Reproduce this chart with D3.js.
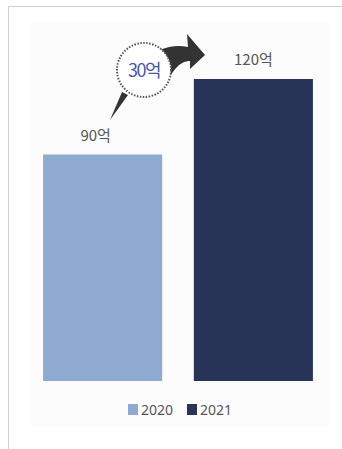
<!DOCTYPE html>
<html><head><meta charset="utf-8">
<script src="https://cdn.jsdelivr.net/npm/d3@7"></script>
<style>html,body{margin:0;padding:0;background:#fff;}svg{display:block;}</style>
</head><body>
<script>
const categories = ["2020", "2021"];
const values = [90, 120];
const valueLabels = ["90억", "120억"];
const colors = ["#8eaad0", "#283559"];
const diffLabel = "30억";

const W = 342, H = 449;
const svg = d3.select("body").append("svg").attr("width", W).attr("height", H);

// frame lines
svg.append("path").attr("d", "M8.5,449 L8.5,6.5 L342,6.5").attr("fill", "none").attr("stroke", "#d0d0d0").attr("stroke-width", 1);
// faint panel
svg.append("rect").attr("x", 30).attr("y", 22).attr("width", 300).attr("height", 405).attr("fill", "#fcfcfc");

const x = d3.scaleBand().domain(categories).range([28, 328]).paddingInner(0.21).paddingOuter(0.1);
const y = d3.scaleLinear().domain([0, 120]).range([381, 79]);

svg.selectAll("rect.bar").data(categories).join("rect").attr("class", "bar")
  .attr("x", d => x(d)).attr("width", x.bandwidth())
  .attr("y", (d, i) => y(values[i])).attr("height", (d, i) => y(0) - y(values[i]))
  .attr("fill", (d, i) => colors[i]);

const labelDx = [-7, 0];
svg.selectAll("text.val").data(categories).join("text").attr("class", "val")
  .attr("x", (d, i) => x(d) + x.bandwidth() / 2 + labelDx[i])
  .attr("y", (d, i) => y(values[i]) - 14)
  .attr("text-anchor", "middle").attr("font-family", "'Noto Sans CJK KR', sans-serif")
  .attr("font-size", 15).attr("fill", "#555").text((d, i) => valueLabels[i]);

// annotation: circle with difference
const cx = 144, cy = 70, r = 27;
// tail toward 90 label
svg.append("path").attr("d", `M${cx - 22},${cy + 22} L${cx - 16},${cy + 25} L${cx - 34},${cy + 50} Z`).attr("fill", "#333");
// arrow
svg.append("path")
  .attr("d", `M${cx + 16},${cy - 20} Q${cx + 30},${cy - 26} ${cx + 44},${cy - 23} L${cx + 43},${cy - 36} L${cx + 61},${cy - 15} L${cx + 46},${cy - 1} L${cx + 46},${cy - 9} Q${cx + 36},${cy - 10} ${cx + 26},${cy + 6} Z`)
  .attr("fill", "#333");
svg.append("circle").attr("cx", cx).attr("cy", cy).attr("r", r).attr("fill", "#fff")
  .attr("stroke", "#555").attr("stroke-width", 2).attr("stroke-dasharray", "1.5,1.5");
svg.append("text").attr("x", cx).attr("y", cy + 7).attr("text-anchor", "middle")
  .attr("font-family", "'Noto Sans CJK KR', sans-serif").attr("font-size", 18)
  .attr("letter-spacing", -1.5).attr("fill", "#4656a8").text(diffLabel);

// legend
const lg = svg.append("g");
const legX = [128, 187];
categories.forEach((c, i) => {
  lg.append("rect").attr("x", legX[i]).attr("y", 404).attr("width", 10).attr("height", 11).attr("fill", colors[i]);
  lg.append("text").attr("x", legX[i] + 13).attr("y", 415).attr("font-family", "'Noto Sans', sans-serif")
    .attr("font-size", 14).attr("fill", "#555").text(c);
});
</script>
</body></html>
